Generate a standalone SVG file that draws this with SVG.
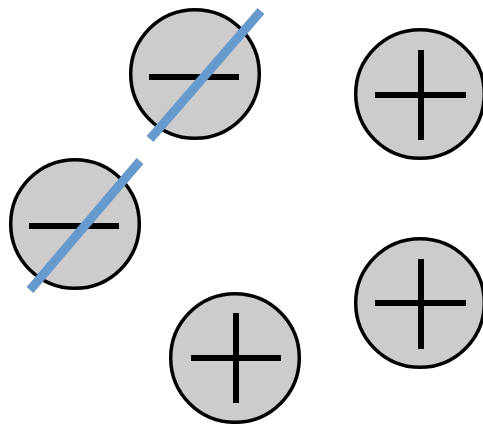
<svg xmlns="http://www.w3.org/2000/svg" width="483" height="424" viewBox="0 0 483 424">
<style>
.c{fill:#cccccc;stroke:#000;stroke-width:3.5}
.s{stroke:#000;stroke-width:6;fill:none}
.b{stroke:#6699cc;stroke-width:9;fill:none}
</style>
<rect width="483" height="424" fill="#fff"/>
<g id="minus1"><circle class="c" cx="195" cy="74" r="64.3"/><line class="s" x1="149" y1="77" x2="239" y2="77"/></g>
<g id="minus2"><circle class="c" cx="75" cy="224" r="64.3"/><line class="s" x1="29" y1="226" x2="119" y2="226"/></g>
<g id="plus1"><circle class="c" cx="420" cy="94" r="64.3"/><line class="s" x1="375" y1="95" x2="466" y2="95"/><line class="s" x1="421" y1="50" x2="421" y2="140"/></g>
<g id="plus2"><circle class="c" cx="420" cy="303" r="64.3"/><line class="s" x1="375" y1="303" x2="466" y2="303"/><line class="s" x1="421" y1="259" x2="421" y2="349"/></g>
<g id="plus3"><circle class="c" cx="235" cy="358" r="64.3"/><line class="s" x1="191" y1="358" x2="281" y2="358"/><line class="s" x1="236" y1="313" x2="236" y2="403"/></g>
<g id="connectors">
<line class="b" x1="261" y1="11" x2="150" y2="139"/>
<line class="b" x1="140" y1="161" x2="30" y2="290"/>
</g>
</svg>
